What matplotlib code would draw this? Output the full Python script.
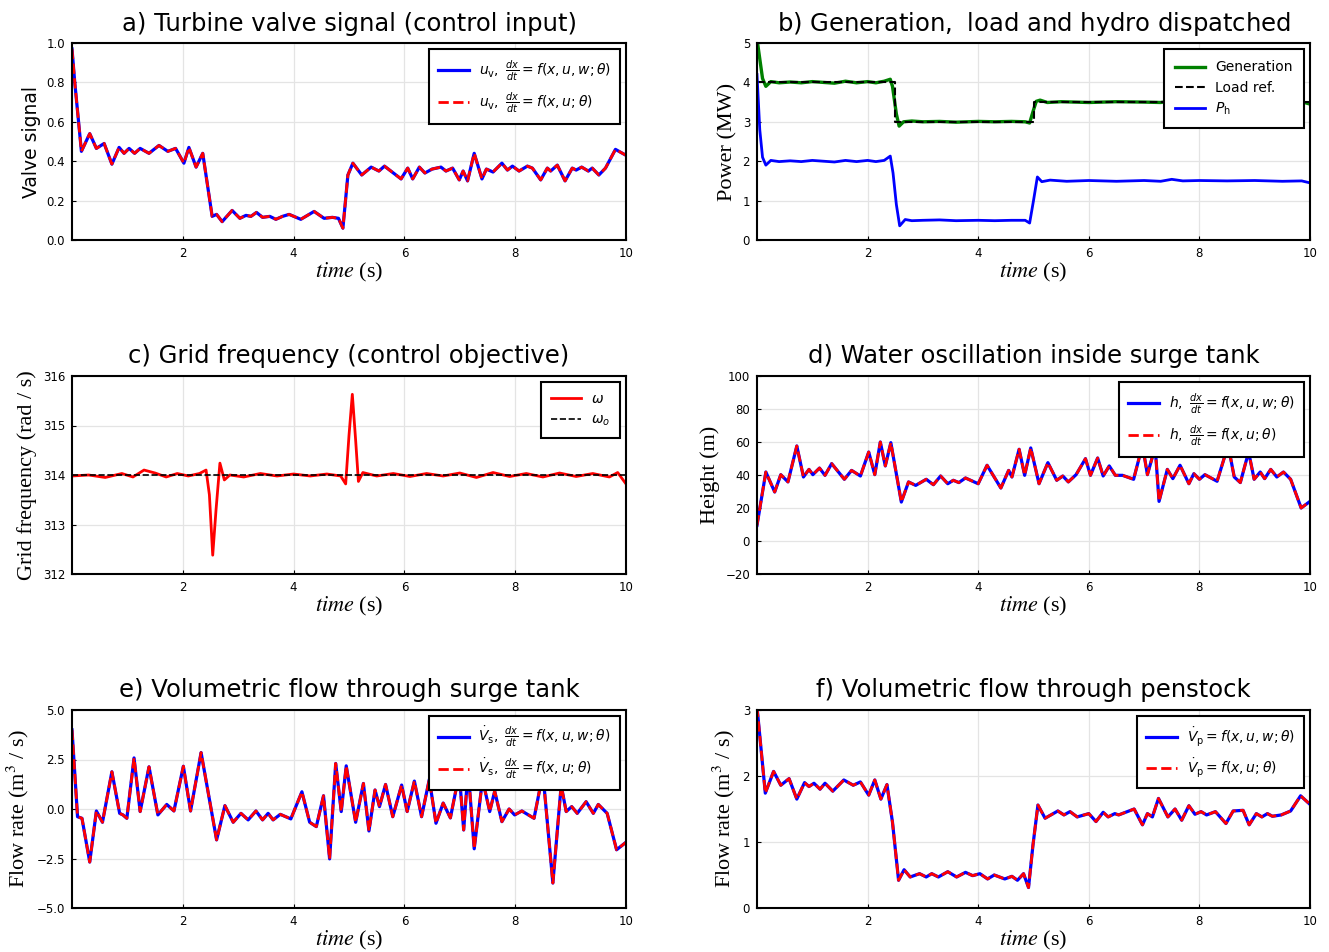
import numpy as np
import matplotlib
matplotlib.use("Agg")
import matplotlib.pyplot as plt
from matplotlib.font_manager import FontProperties

# ---- datos ----
# a) senal de valvula
t_a = [0.0, 0.05, 0.17, 0.32, 0.44, 0.58, 0.72, 0.85, 0.94, 1.03, 1.13, 1.23, 1.39, 1.57, 1.73,
       1.87, 2.02, 2.11, 2.24, 2.36, 2.53, 2.61, 2.71, 2.89, 3.03, 3.14, 3.23, 3.33, 3.44, 3.57,
       3.68, 3.80, 3.92, 4.13, 4.37, 4.55, 4.70, 4.81, 4.89, 4.98, 5.07, 5.23, 5.40, 5.54, 5.64,
       5.94, 6.06, 6.15, 6.27, 6.37, 6.50, 6.66, 6.75, 6.87, 6.99, 7.06, 7.14, 7.26, 7.40, 7.48,
       7.60, 7.76, 7.86, 7.95, 8.07, 8.22, 8.31, 8.46, 8.58, 8.64, 8.76, 8.90, 9.03, 9.10, 9.20,
       9.32, 9.39, 9.51, 9.63, 9.81, 10.0]
u_v = [0.97, 0.80, 0.45, 0.54, 0.465, 0.49, 0.385, 0.47, 0.44, 0.465, 0.44, 0.465, 0.44, 0.48, 0.45,
       0.465, 0.39, 0.47, 0.37, 0.44, 0.12, 0.13, 0.093, 0.15, 0.11, 0.125, 0.12, 0.14, 0.115, 0.12,
       0.105, 0.12, 0.13, 0.105, 0.145, 0.11, 0.115, 0.11, 0.06, 0.33, 0.39, 0.33, 0.37, 0.35, 0.375,
       0.31, 0.365, 0.31, 0.37, 0.34, 0.36, 0.37, 0.35, 0.365, 0.305, 0.35, 0.30, 0.44, 0.31, 0.36,
       0.345, 0.39, 0.355, 0.375, 0.35, 0.375, 0.365, 0.305, 0.365, 0.35, 0.38, 0.30, 0.365, 0.355, 0.37,
       0.35, 0.365, 0.33, 0.365, 0.46, 0.43]

# b) generacion, carga y despacho hidro
t_gen = [0.0, 0.05, 0.1, 0.16, 0.25, 0.4, 0.6, 0.8, 1.0, 1.2, 1.4, 1.6, 1.8, 2.0, 2.15, 2.3, 2.41,
         2.45, 2.52, 2.57, 2.65, 2.8, 3.0, 3.3, 3.6, 4.0, 4.3, 4.6, 4.85, 4.93, 5.0, 5.05, 5.12,
         5.25, 5.5, 6.0, 6.5, 7.0, 7.3, 7.5, 7.7, 8.0, 8.5, 9.0, 9.5, 9.85, 10.0]
p_gen = [5.1, 4.6, 4.1, 3.9, 4.02, 3.99, 4.01, 3.99, 4.02, 4.0, 3.98, 4.03, 3.99, 4.02, 3.99, 4.03, 4.08,
         3.9, 3.2, 2.89, 3.0, 3.02, 3.0, 3.01, 2.99, 3.01, 3.0, 3.01, 3.0, 2.97, 3.3, 3.52, 3.55,
         3.49, 3.51, 3.49, 3.51, 3.5, 3.49, 3.53, 3.5, 3.51, 3.5, 3.51, 3.49, 3.51, 3.45]
t_load = [0.0, 2.5, 2.5, 5.0, 5.0, 10.0]
p_load = [4.0, 4.0, 3.0, 3.0, 3.5, 3.5]
t_ph = [0.0, 0.05, 0.1, 0.16, 0.25, 0.4, 0.6, 0.8, 1.0, 1.2, 1.4, 1.6, 1.8, 2.0, 2.15, 2.3, 2.41,
        2.46, 2.52, 2.58, 2.68, 2.8, 3.0, 3.3, 3.6, 4.0, 4.3, 4.6, 4.85, 4.93, 5.0, 5.07, 5.15,
        5.3, 5.6, 6.0, 6.5, 7.0, 7.3, 7.5, 7.7, 8.0, 8.5, 9.0, 9.5, 9.85, 10.0]
p_h = [4.2, 2.8, 2.1, 1.9, 2.02, 1.99, 2.01, 1.99, 2.02, 2.0, 1.98, 2.02, 1.99, 2.02, 1.99, 2.02, 2.13,
       1.7, 0.9, 0.36, 0.52, 0.49, 0.5, 0.51, 0.49, 0.5, 0.49, 0.5, 0.5, 0.43, 1.0, 1.6, 1.48,
       1.52, 1.49, 1.51, 1.49, 1.51, 1.49, 1.54, 1.5, 1.51, 1.5, 1.51, 1.49, 1.5, 1.45]

# c) frecuencia de red
t_c = [0.0, 0.3, 0.6, 0.9, 1.1, 1.3, 1.5, 1.7, 1.9, 2.1, 2.3, 2.42, 2.48, 2.54, 2.6, 2.67, 2.75,
       2.85, 3.1, 3.4, 3.7, 4.0, 4.3, 4.6, 4.85, 4.94, 5.0, 5.06, 5.12, 5.17, 5.25, 5.5, 5.8,
       6.1, 6.4, 6.7, 7.0, 7.3, 7.6, 7.9, 8.2, 8.5, 8.8, 9.1, 9.4, 9.7, 9.85, 10.0]
omega = [313.98, 314.0, 313.95, 314.03, 313.96, 314.1, 314.04, 313.96, 314.03, 313.98, 314.03, 314.1,
         313.6, 312.38, 313.3, 314.24, 313.9, 314.0, 313.96, 314.03, 313.98, 314.02, 313.98, 314.02,
         313.98, 313.82, 314.8, 315.63, 314.7, 313.87, 314.05, 313.98, 314.03, 313.97, 314.03, 313.98,
         314.04, 313.95, 314.05, 313.97, 314.03, 313.96, 314.04, 313.97, 314.03, 313.96, 314.05, 313.82]
omega_o = [314.0, 314.0]
t_omega_o = [0.0, 10.0]

# d) altura en tanque de compensacion
t_d = [0.0, 0.16, 0.32, 0.43, 0.56, 0.72, 0.84, 0.94, 1.01, 1.13, 1.23, 1.35, 1.58, 1.71, 1.87,
       2.02, 2.13, 2.23, 2.32, 2.42, 2.61, 2.74, 2.87, 3.06, 3.19, 3.32, 3.45, 3.55, 3.65, 3.77,
       4.0, 4.16, 4.41, 4.55, 4.61, 4.74, 4.84, 4.95, 5.10, 5.26, 5.42, 5.53, 5.63, 5.77, 5.94,
       6.03, 6.16, 6.26, 6.37, 6.48, 6.61, 6.81, 6.97, 7.06, 7.2, 7.27, 7.42, 7.52, 7.65, 7.81,
       7.90, 8.0, 8.10, 8.32, 8.52, 8.63, 8.74, 8.89, 8.99, 9.10, 9.18, 9.29, 9.40, 9.52, 9.65,
       9.84, 10.0]
h = [9.5, 41.8, 29.7, 40.2, 35.8, 57.6, 38.8, 43.4, 40.2, 44.2, 39.8, 46.9, 37.4, 42.8, 39.4,
     53.9, 40.2, 60.0, 45.5, 59.6, 23.6, 35.8, 33.7, 37.4, 34.1, 39.4, 34.7, 36.8, 35.4, 38.2,
     34.7, 45.9, 32.1, 42.8, 38.8, 55.6, 39.8, 56.4, 34.7, 47.5, 36.8, 39.4, 35.8, 40.2, 49.9,
     39.8, 50.3, 39.4, 45.5, 39.8, 39.8, 37.4, 58.0, 40.2, 57.0, 24.0, 43.4, 37.8, 45.9, 34.7,
     40.8, 37.4, 40.2, 36.2, 58.0, 38.8, 35.4, 54.0, 37.4, 41.8, 37.8, 43.4, 38.8, 41.8, 37.4,
     20.0, 24.0]

# e) caudal por tanque de compensacion
t_e = [0.0, 0.10, 0.18, 0.32, 0.44, 0.55, 0.72, 0.86, 0.92, 0.99, 1.12, 1.23, 1.39, 1.55, 1.71,
       1.84, 2.01, 2.14, 2.33, 2.61, 2.76, 2.91, 3.05, 3.18, 3.32, 3.44, 3.54, 3.63, 3.76, 3.95,
       4.15, 4.29, 4.41, 4.54, 4.65, 4.76, 4.86, 4.95, 5.12, 5.26, 5.36, 5.47, 5.55, 5.66, 5.79,
       5.95, 6.05, 6.18, 6.31, 6.45, 6.57, 6.70, 6.83, 6.99, 7.07, 7.15, 7.26, 7.41, 7.54, 7.63,
       7.76, 7.89, 7.99, 8.12, 8.34, 8.50, 8.68, 8.83, 8.92, 9.02, 9.12, 9.28, 9.41, 9.50, 9.66,
       9.83, 10.0]
v_s = [4.0, -0.39, -0.47, -2.68, -0.1, -0.67, 1.88, -0.22, -0.3, -0.47, 2.58, -0.13, 2.13, -0.3, 0.23,
       -0.1, 2.16, -0.1, 2.85, -1.56, 0.17, -0.67, -0.22, -0.55, -0.1, -0.55, -0.22, -0.55, -0.27, -0.5,
       0.87, -0.67, -0.89, 0.67, -2.52, 2.3, -0.13, 2.18, -0.67, 1.29, -1.11, 0.96, 0.12, 1.24, -0.39,
       1.21, -0.13, 1.41, -0.39, 1.5, -0.72, 0.3, -0.45, 1.8, -1.06, 2.0, -2.01, 1.5, -0.13, 0.9,
       -0.64, 0.0, -0.3, -0.1, -0.47, 1.8, -3.74, 1.2, -0.13, 0.12, -0.22, 0.37, -0.22, 0.23, -0.22,
       -2.06, -1.68]

# f) caudal por tuberia forzada
t_f = [0.0, 0.15, 0.30, 0.43, 0.58, 0.72, 0.86, 0.94, 1.03, 1.14, 1.23, 1.37, 1.57, 1.74, 1.87,
       2.02, 2.13, 2.24, 2.35, 2.45, 2.56, 2.66, 2.77, 2.94, 3.06, 3.16, 3.28, 3.45, 3.61, 3.77,
       3.90, 4.03, 4.17, 4.29, 4.48, 4.61, 4.71, 4.82, 4.91, 4.99, 5.08, 5.21, 5.44, 5.55, 5.66,
       5.79, 6.0, 6.13, 6.26, 6.35, 6.47, 6.54, 6.82, 6.97, 7.06, 7.15, 7.26, 7.43, 7.56, 7.68,
       7.81, 7.92, 8.03, 8.13, 8.29, 8.48, 8.61, 8.79, 8.90, 9.03, 9.13, 9.23, 9.32, 9.48, 9.65,
       9.83, 10.0]
v_p = [3.05, 1.74, 2.07, 1.86, 1.96, 1.65, 1.90, 1.84, 1.89, 1.80, 1.89, 1.77, 1.94, 1.86, 1.91,
       1.71, 1.94, 1.65, 1.87, 1.30, 0.42, 0.58, 0.47, 0.52, 0.47, 0.52, 0.47, 0.55, 0.47, 0.54,
       0.49, 0.52, 0.44, 0.50, 0.44, 0.48, 0.42, 0.52, 0.31, 0.95, 1.56, 1.36, 1.47, 1.41, 1.46,
       1.38, 1.43, 1.31, 1.45, 1.38, 1.43, 1.41, 1.50, 1.26, 1.43, 1.38, 1.66, 1.38, 1.50, 1.33,
       1.55, 1.42, 1.46, 1.41, 1.46, 1.28, 1.47, 1.48, 1.26, 1.43, 1.38, 1.43, 1.39, 1.41, 1.47,
       1.70, 1.57]

# ---- estilo ----
plt.rcParams['font.family'] = 'DejaVu Sans'
plt.rcParams['xtick.direction'] = 'in'
plt.rcParams['ytick.direction'] = 'in'
plt.rcParams['xtick.labelsize'] = 8.5
plt.rcParams['ytick.labelsize'] = 8.5

serif = dict(family='Liberation Serif', size=16, math_fontfamily='stix')
leg_font = FontProperties(family='DejaVu Sans', size=10, math_fontfamily='dejavusans')

fig = plt.figure(figsize=(13.29, 9.52), dpi=100)
W, H = 1329, 952

def make_ax(left, right, top, bottom):
    ax = fig.add_axes([left / W, 1 - bottom / H, (right - left) / W, (bottom - top) / H])
    for s in ax.spines.values():
        s.set_linewidth(1.5)
    ax.grid(True, color='#e4e4e4', lw=0.9)
    ax.set_axisbelow(True)
    ax.set_xlim(0, 10)
    ax.set_xticks([2, 4, 6, 8, 10])
    ax.tick_params(length=3, width=0.8, pad=5)
    ax.set_xlabel(r'$time$ (s)', fontdict=serif, labelpad=1)
    return ax

def legend(ax, spacing=0.55, pad=0.65):
    lg = ax.legend(loc='upper right', prop=leg_font, fancybox=False, framealpha=1,
                   edgecolor='black', borderaxespad=0.45, labelspacing=spacing,
                   handlelength=2.2, borderpad=pad, handletextpad=0.7)
    lg.get_frame().set_linewidth(1.5)
    return lg

title_kw = dict(fontsize=17.5, pad=9)

# a)
ax = make_ax(72, 626, 43, 240)
ax.plot(t_a, u_v, color='blue', lw=2.3, label=r'$u_\mathrm{v},\ \frac{dx}{dt} = f(x, u, w; \theta)$')
ax.plot(t_a, u_v, color='red', lw=2.0, ls='--', label=r'$u_\mathrm{v},\ \frac{dx}{dt} = f(x, u; \theta)$')
ax.set_ylim(0, 1)
ax.set_yticks(np.arange(0, 1.01, 0.2))
ax.set_yticklabels(['0.0', '0.2', '0.4', '0.6', '0.8', '1.0'])
ax.set_ylabel('Valve signal', fontsize=13.5)
ax.set_title('a) Turbine valve signal (control input)', **title_kw)
legend(ax)

# b)
ax = make_ax(757, 1310, 43, 240)
ax.plot(t_gen, p_gen, color='green', lw=2.4, label='Generation')
ax.plot(t_load, p_load, color='black', lw=1.5, ls='--', label='Load ref.')
ax.plot(t_ph, p_h, color='blue', lw=2.0, label=r'$P_\mathrm{h}$')
ax.set_ylim(0, 5)
ax.set_yticks(range(0, 6))
ax.set_ylabel('Power (MW)', fontdict=serif)
ax.set_title(r'b) Generation, $\;$load and hydro dispatched', **title_kw)
legend(ax, spacing=0.45, pad=0.8)

# c)
ax = make_ax(72, 626, 376, 574)
ax.plot(t_c, omega, color='red', lw=2.0, label=r'$\omega$')
ax.plot(t_omega_o, omega_o, color='black', lw=1.2, ls='--', label=r'$\omega_o$')
ax.set_ylim(312, 316)
ax.set_yticks(range(312, 317))
ax.set_ylabel('Grid frequency (rad / s)', fontdict=serif)
ax.set_title('c) Grid frequency (control objective)', **title_kw)
legend(ax, spacing=0.5, pad=0.7)

# d)
ax = make_ax(757, 1310, 376, 574)
ax.plot(t_d, h, color='blue', lw=2.3, label=r'$h,\ \frac{dx}{dt} = f(x, u, w; \theta)$')
ax.plot(t_d, h, color='red', lw=2.0, ls='--', label=r'$h,\ \frac{dx}{dt} = f(x, u; \theta)$')
ax.set_ylim(-20, 100)
ax.set_yticks(range(-20, 101, 20))
ax.set_ylabel('Height (m)', fontdict=serif)
ax.set_title('d) Water oscillation inside surge tank', **title_kw)
legend(ax)

# e)
ax = make_ax(72, 626, 710, 908)
ax.plot(t_e, v_s, color='blue', lw=2.3, label=r'$\dot{V}_\mathrm{s},\ \frac{dx}{dt} = f(x, u, w; \theta)$')
ax.plot(t_e, v_s, color='red', lw=2.0, ls='--', label=r'$\dot{V}_\mathrm{s},\ \frac{dx}{dt} = f(x, u; \theta)$')
ax.set_ylim(-5, 5)
ax.set_yticks([-5, -2.5, 0, 2.5, 5])
ax.set_yticklabels(['\u22125.0', '\u22122.5', '0.0', '2.5', '5.0'])
ax.set_ylabel(r'Flow rate (m$^3$ / s)', fontdict=serif)
ax.set_title('e) Volumetric flow through surge tank', **title_kw)
legend(ax)

# f)
ax = make_ax(757, 1310, 710, 908)
ax.plot(t_f, v_p, color='blue', lw=2.3, label=r'$\dot{V}_\mathrm{p} = f(x, u, w; \theta)$')
ax.plot(t_f, v_p, color='red', lw=2.0, ls='--', label=r'$\dot{V}_\mathrm{p} = f(x, u; \theta)$')
ax.set_ylim(0, 3)
ax.set_yticks(range(0, 4))
ax.set_ylabel(r'Flow rate (m$^3$ / s)', fontdict=serif)
ax.set_title('f) Volumetric flow through penstock', **title_kw)
legend(ax)

fig.savefig('out.png', dpi=100)
